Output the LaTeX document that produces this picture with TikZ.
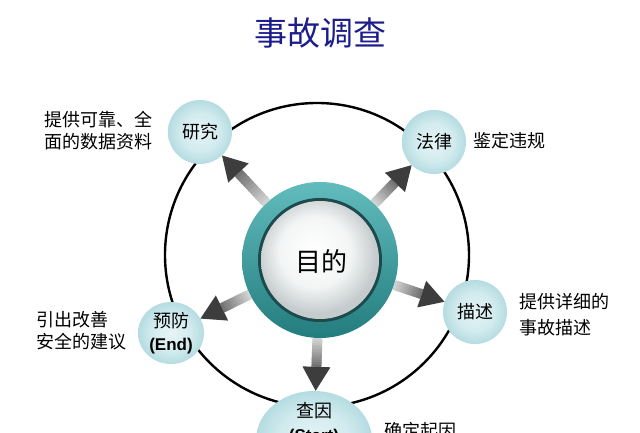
\documentclass[tikz,border=0pt]{standalone}
\usepackage{fontspec}
\setmainfont{Noto Sans CJK SC}
\newfontfamily\latinbold{Liberation Sans}
\usetikzlibrary{calc,shapes.geometric}
\definecolor{titleblue}{RGB}{28,28,140}
\definecolor{nb1}{RGB}{230,244,246}
\definecolor{nb2}{RGB}{210,235,238}
\definecolor{nb3}{RGB}{180,220,225}
\definecolor{tealL}{RGB}{98,188,189}
\definecolor{tealD}{RGB}{35,124,126}
\definecolor{ringdark}{RGB}{29,74,77}
\definecolor{disc2}{RGB}{243,245,245}
\definecolor{disc3}{RGB}{198,204,206}
\pgfdeclareradialshading{nodeball}{\pgfpoint{0bp}{0bp}}{color(0bp)=(nb1); color(15bp)=(nb2); color(25bp)=(nb3); color(50bp)=(nb3)}
\pgfdeclareradialshading{discball}{\pgfpoint{-3bp}{5bp}}{color(0bp)=(white); color(15bp)=(disc2); color(25bp)=(disc3); color(50bp)=(disc3)}
\newcommand\garrow[2]{%
  \path (#1) -- (#2) coordinate[pos=0] (gs) coordinate[pos=1] (gt);
  \coordinate (gb) at ($(gt)!24pt!(gs)$);
  \foreach \i in {0,...,11}{%
    \pgfmathsetmacro\ta{\i/12}%
    \pgfmathsetmacro\tb{min((\i+1.4)/12,1)}%
    \pgfmathtruncatemacro\cc{18+3.4*\i}%
    \draw[line width=10pt, black!\cc] ($(gs)!\ta!(gb)$) -- ($(gs)!\tb!(gb)$);
  }
  \fill[arrowhead] ($(gb)!14pt!90:(gt)$) -- (gt) -- ($(gb)!14pt!-90:(gt)$) -- cycle;
}
\tikzset{
  bubble/.style={circle, shade, shading=nodeball, inner sep=0pt, minimum size=64pt,
    font=\fontsize{18}{23}\selectfont, align=center},
  side/.style={anchor=west, align=left, font=\fontsize{18}{22}\selectfont, inner sep=0pt},
  arrowhead/.style={fill=black!76},
  ring/.style={line width=2.4pt, draw=black}
}
\begin{document}
\begin{tikzpicture}[x=1pt,y=1pt]
\useasboundingbox (0,0) rectangle (640,433);
\clip (0,0) rectangle (640,433);
\fill[white] (0,0) rectangle (640,433);
% title
\node[font=\fontsize{33}{38}\selectfont, text=titleblue] (title) at (320,400) {事故调查};
% outer ring
\draw[ring] (317,178) circle (152pt);
% center disc
\node[circle, minimum size=156pt, inner sep=0pt, top color=tealL, bottom color=tealD] (c) at (320,173) {};
\fill[ringdark] (c) circle (62pt);
\shade[shading=discball] (c) circle (59pt);
\node[font=\fontsize{26}{30}\selectfont] (ct) at (321,172) {目的};
% outer nodes
\node[bubble] (yj) at (200,301) {研究};
\node[bubble] (fl) at (434,291) {法律};
\node[bubble] (ms) at (475,121) {描述};
\node[bubble, ellipse, minimum width=66pt, minimum height=62pt] (yf) at (171,100)
  {预防\\{\fontsize{17}{23}\selectfont\latinbold\bfseries (End)}};
\node[bubble, ellipse, minimum width=116pt, minimum height=98pt] (cy) at (314,-7) {};
\node[font=\fontsize{18}{24}\selectfont, align=center] (cyt) at (314,9)
  {查因\\{\fontsize{17}{24}\selectfont\latinbold\bfseries (Start)}};
% side texts
\node[side] (tyj) at (44,302) {提供可靠、全\\面的数据资料};
\node[side] (tfl) at (473,292) {鉴定违规};
\node[side, font=\fontsize{18}{26}\selectfont] (tms) at (519,118.5) {提供详细的\\事故描述};
\node[side] (tyf) at (36,102) {引出改善\\安全的建议};
\node[side] (tcy) at (384,2) {确定起因};
% arrows
\garrow{c}{yj}
\garrow{c}{fl}
\garrow{c}{ms}
\garrow{c}{yf}
\garrow{c}{cy}
\end{tikzpicture}
\end{document}
